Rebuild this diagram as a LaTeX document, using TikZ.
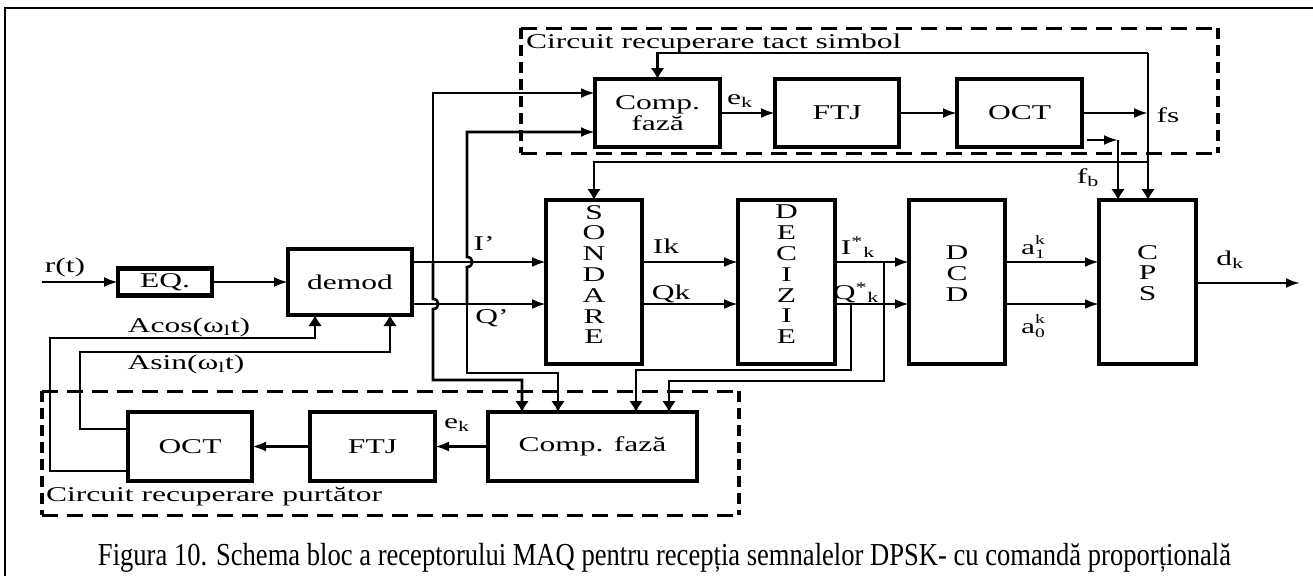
\documentclass[tikz,border=0pt]{standalone}
\usepackage{fontspec}
\setmainfont{Liberation Serif}
\usepackage{graphicx}
\usetikzlibrary{arrows.meta,positioning,calc}
\newcommand{\sw}[1]{\scalebox{1.5}[1]{#1}}
\newcommand{\ak}[1]{a\rlap{\raisebox{10pt}{\fontsize{13}{13}\selectfont k}}\raisebox{-4pt}{\fontsize{13}{13}\selectfont #1}}

\begin{document}
\begin{tikzpicture}[x=1pt,y=-1pt,font=\fontsize{21}{20.8}\selectfont,
        blk/.style={draw,line width=4.5pt,outer sep=0pt,inner sep=0pt,minimum height=68pt,align=center},
        col/.style={align=center,inner sep=0pt},
        lbl/.style={inner sep=0pt},
        con/.style={line width=2.6pt},
        ah/.style={con,-{Latex[length=14pt,width=10pt]}},
        av/.style={con,-{Latex[length=11pt,width=14pt]}},
        dh/.style={line width=3pt,dash pattern=on 16pt off 9pt},
        dv/.style={line width=4.5pt,dash pattern=on 11pt off 6pt}]
  \useasboundingbox (0,0) rectangle (1313,576);
  \draw[line width=2pt] (1313,8) -- (5,8) -- (5,576);

  % middle row
  \node[blk,minimum width=94pt,minimum height=27pt] (eq) at (165,282) {\sw{EQ.}};
  \node[blk,minimum width=124pt,minimum height=66pt,right=76pt of eq] (demod) {\sw{demod}};
  \node[blk,minimum width=96pt,minimum height=164pt,right=134pt of demod] (sond) {};
  \node[blk,minimum width=97pt,minimum height=164pt,right=96pt of sond] (dec) {};
  \node[blk,minimum width=96pt,minimum height=164pt,right=74pt of dec] (dcd) {};
  \node[blk,minimum width=97pt,minimum height=164pt,right=94pt of dcd] (cps) {};
  \node[col] (sondl) at (594,274.5) {\sw{S}\\\sw{O}\\\sw{N}\\\sw{D}\\\sw{A}\\\sw{R}\\\sw{E}};
  \node[col] (decl) at (786.5,274.5) {\sw{D}\\\sw{E}\\\sw{C}\\\sw{I}\\\sw{Z}\\\sw{I}\\\sw{E}};
  \node[col] (dcdl) at (957,273.5) {\sw{D}\\\sw{C}\\\sw{D}};
  \node[col] (cpsl) at (1147.5,273) {\sw{C}\\\sw{P}\\\sw{S}};

  % tact simbol
  \node[blk,minimum width=125pt] (cft) at (657.5,113) {\sw{Comp.}\\\sw{fază}};
  \node[blk,minimum width=124pt,right=55pt of cft] (ftt) {\sw{FTJ}};
  \node[blk,minimum width=125pt,right=58pt of ftt] (oct) {\sw{OCT}};

  % purtator
  \node[blk,minimum width=209pt,minimum height=69pt] (cfb) at (592.5,446.5) {\sw{Comp. fază}};
  \node[blk,minimum width=125pt,minimum height=69pt,left=53pt of cfb] (ftb) {\sw{FTJ}};
  \node[blk,minimum width=124pt,minimum height=69pt,left=58pt of ftb] (ocb) {\sw{OCT}};

  \draw[dh] (521,28) -- (1218,28);
  \draw[dh] (521,153) -- (1218,153);
  \draw[dv] (521,28) -- (521,153);
  \draw[dv] (1218,28) -- (1218,153);
  \draw[dh] (42,391) -- (739,391);
  \draw[dh] (42,515) -- (739,515);
  \draw[dv] (42,391) -- (42,515);
  \draw[dv] (739,391) -- (739,515);
  \node[lbl,anchor=west] (tcl) at (526,43) {\sw{Circuit recuperare tact simbol}};
  \node[lbl,anchor=west] (pcl) at (46,497) {\sw{Circuit recuperare purtător}};

  \coordinate (rin) at (42,282);
  \coordinate (ij) at (433,262);
  \coordinate (qj) at (467,304);
  \coordinate (isj) at (884,262);
  \coordinate (qsj) at (851,304);
  \coordinate (fsj) at (1148,113);
  \coordinate (fstop) at (1148,53);
  \coordinate (fbj) at (1118,140);
  \coordinate (dout) at (1300,283);

  \draw[ah] (rin) -- (eq.west);
  \node[lbl] (rtl) at (65,267) {\sw{r(t)}};
  \draw[ah] (eq) -- (demod);
  \draw[ah] (demod.east |- ij) -- (sond.west |- ij);
  \draw[ah] (demod.east |- qj) -- (sond.west |- qj);
  \node[lbl] (lip) at (484,244) {\sw{I’}};
  \node[lbl] (lqp) at (492,318) {\sw{Q’}};

  % I' and Q' to both phase comparators
  \draw[ah] (ij) -- (433,93) -- (cft.west |- 0,93);
  \draw[av] (ij) -- (433,299) .. controls (440,299) and (440,309) .. (433,309)
    -- (433,380) -- (522,380) -- (cfb.north -| 522,0);
  \draw[ah] (qj) -- (467,267) .. controls (474,267) and (474,257) .. (467,257)
    -- (467,132) -- (cft.west |- 0,132);
  \draw[av] (qj) -- (467,373) -- (558,373) -- (cfb.north -| 558,0);

  \draw[ah] (cft) -- (ftt);
  \node[lbl] (ekt) at (740,101) {\sw{e\textsubscript{k}}};
  \draw[ah] (ftt) -- (oct);
  \draw[ah] (oct) -- (fsj);
  \node[lbl] (fsl) at (1168,115) {\sw{fs}};
  \draw[av] (fstop) -- (cps.north -| fstop);
  \draw[av] (fstop) -- (cft.north |- fstop) -- (cft.north);
  \draw[av] (fsj |- 0,162) -- (sond.north |- 0,162) -- (sond.north);
  \draw[ah] ([xshift=5pt]oct.east |- fbj) -- (fbj);
  \draw[av] (fbj) -- (cps.north -| fbj);
  \node[lbl] (fbl) at (1088,178) {\sw{f\textsubscript{b}}};

  \draw[ah] (sond.east |- ij) -- (dec.west |- ij);
  \draw[ah] (sond.east |- qj) -- (dec.west |- qj);
  \node[lbl] (ikl) at (666,246) {\sw{Ik}};
  \node[lbl] (qkl) at (671,294) {\sw{Qk}};
  \draw[ah] (dec.east |- ij) -- (dcd.west |- ij);
  \draw[ah] (dec.east |- qj) -- (dcd.west |- qj);
  \node[lbl] (isl) at (858,247) {\sw{I\textsuperscript{*}\textsubscript{k}}};
  \node[lbl] (qsl) at (856,293) {\sw{Q\textsuperscript{*}\textsubscript{k}}};
  \draw[ah] (dcd.east |- ij) -- (cps.west |- ij);
  \draw[ah] (dcd.east |- qj) -- (cps.west |- qj);
  \node[lbl] (a1l) at (1033,247) {\sw{\ak{1}}};
  \node[lbl] (a0l) at (1033,326) {\sw{\ak{0}}};
  \draw[ah] (cps.east |- dout) -- (dout);
  \node[lbl] (dkl) at (1230,260) {\sw{d\textsubscript{k}}};

  % decisions back to carrier comparator
  \draw[av] (isj) -- (884,381) -- (669,381) -- (cfb.north -| 669,0);
  \draw[av] (qsj) -- (851,370) -- (636,370) -- (cfb.north -| 636,0);

  \draw[ah] (cfb) -- (ftb);
  \node[lbl] (ekb) at (457,425) {\sw{e\textsubscript{k}}};
  \draw[ah] (ftb) -- (ocb);
  \draw[av] (ocb.west |- 0,471) -- (50,471) -- (50,338) -- (315,338) -- (demod.south -| 315,0);
  \draw[av] (ocb.west |- 0,429) -- (80,429) -- (80,352) -- (390,352) -- (demod.south -| 390,0);
  \node[lbl] (acl) at (189,327) {\sw{Acos(ω\textsubscript{l}t)}};
  \node[lbl] (asl) at (186,364) {\sw{Asin(ω\textsubscript{l}t)}};

  \node[lbl,anchor=base] (cap) at (664.5,565) {\resizebox{1133pt}{\height}{\fontsize{32}{32}\selectfont
    Figura 10. Schema bloc a receptorului MAQ pentru recepția semnalelor DPSK- cu comandă proporțională}};
\end{tikzpicture}
\end{document}
